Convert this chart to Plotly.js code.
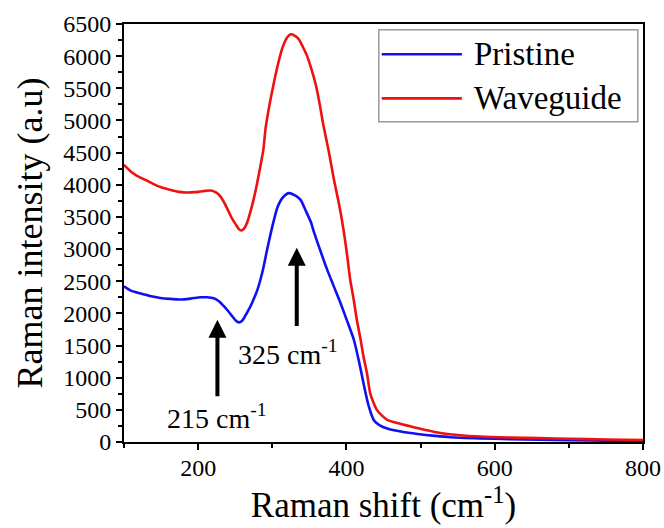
<!DOCTYPE html>
<html>
<head>
<meta charset="utf-8">
<script src="https://cdn.plot.ly/plotly-3.0.1.min.js"></script>
<style>html,body{margin:0;padding:0;background:#fff;}#chart{width:664px;height:528px;}</style>
</head>
<body>
<div id="chart"></div>
<script>
// Raman shift (cm^-1) and intensity (a.u)
const waveguideX = [100,110,122,130,140,150,163,175,185,195,203,210,217,224,230,235,240,246,251,255,258,262,266,270,275,280,284,288,291,296,302,308,314,320,325,330,336,341,347,353,359,364,369,376,383,390,396,401,405,410,414,419,423,428,432,437,441,448,455,470,487,505,527,550,580,620,660,700,750,800];
const waveguideY = [4310,4200,4110,4070,4010,3960,3920,3890,3880,3885,3895,3905,3910,3880,3820,3725,3610,3470,3380,3310,3290,3320,3410,3560,3780,4050,4290,4550,4880,5230,5580,5890,6140,6290,6340,6320,6260,6150,6000,5790,5540,5250,4920,4530,4090,3700,3305,2900,2530,2200,1900,1600,1330,1050,760,600,500,410,345,290,240,190,140,110,85,70,60,50,40,30];
const pristineX = [100,110,122,135,149,162,176,190,203,212,221,228,235,241,246,251,255,259,262,266,273,280,287,293,300,307,314,322,330,338,345,352,356,365,374,383,392,401,410,417,424,430,437,445,455,475,496,520,540,580,620,660,700,750,800];
const pristineY = [2420,2350,2310,2270,2240,2225,2215,2230,2250,2250,2235,2190,2110,2030,1955,1885,1860,1880,1930,2010,2170,2370,2660,2990,3350,3650,3800,3870,3840,3770,3600,3420,3270,2970,2680,2420,2160,1880,1590,1250,860,560,340,260,210,160,125,95,75,57,45,35,28,20,12];
const seriesNames = ['Pristine','Waveguide'];
const peakLabels = ['215 cm<sup>-1</sup>','325 cm<sup>-1</sup>'];
const peakArrowX = [226, 333];
const peakArrowHead = [1900, 3020];
const peakArrowTail = [690, 1780];
const peakTextX = [226, 321];
const peakTextY = [390, 1390];

const FONT = 'Liberation Serif';
const BLUE = '#1010f0';
const RED = '#f01010';

const traces = [
  {x: pristineX, y: pristineY, name: seriesNames[0], type: 'scatter', mode: 'lines',
   line: {color: BLUE, width: 2.6, shape: 'spline', smoothing: 0.6}, showlegend: false},
  {x: waveguideX, y: waveguideY, name: seriesNames[1], type: 'scatter', mode: 'lines',
   line: {color: RED, width: 2.6, shape: 'spline', smoothing: 0.6}, showlegend: false}
];

const annotations = [];
for (let i = 0; i < peakLabels.length; i++) {
  annotations.push({x: peakArrowX[i], y: peakArrowHead[i], ax: peakArrowX[i],
    ay: peakArrowTail[i], axref: 'x', ayref: 'y', xref: 'x', yref: 'y', text: '',
    showarrow: true, arrowhead: 2, arrowsize: 0.9, arrowwidth: 4, arrowcolor: 'black', standoff: 0, startstandoff: 0});
  annotations.push({x: peakTextX[i], y: peakTextY[i], xref: 'x', yref: 'y', text: peakLabels[i],
    showarrow: false, font: {family: FONT, size: 28, color: 'black'}, xanchor: 'center', yanchor: 'middle'});
}
// custom legend (text)
const legendY = [0.9275, 0.822];
const legendColors = [BLUE, RED];
const shapes = [
  {type: 'rect', xref: 'paper', yref: 'paper', x0: 0.491, x1: 0.990, y0: 0.766, y1: 0.986,
   line: {color: '#9a9a9a', width: 1.5}, fillcolor: 'rgba(0,0,0,0)'}
];
for (let i = 0; i < seriesNames.length; i++) {
  shapes.push({type: 'line', xref: 'paper', yref: 'paper', x0: 0.4966, x1: 0.651, y0: legendY[i], y1: legendY[i],
    line: {color: legendColors[i], width: 2.6}});
  annotations.push({xref: 'paper', yref: 'paper', x: 0.671, y: legendY[i], text: seriesNames[i],
    showarrow: false, xanchor: 'left', yanchor: 'middle', font: {family: FONT, size: 33, color: 'black'}});
}

function makeAxis(extra) {
  return Object.assign({
    showgrid: false, zeroline: false, showline: true, linecolor: 'black', linewidth: 2, mirror: true,
    ticks: 'outside', ticklen: 6, tickwidth: 2, tickcolor: 'black',
    tickfont: {family: FONT, size: 24, color: 'black'}
  }, extra);
}

const layout = {
  width: 664, height: 528,
  margin: {l: 124, r: 21, t: 24, b: 86, pad: 0},
  paper_bgcolor: 'white', plot_bgcolor: 'white',
  font: {family: FONT, color: 'black'},
  xaxis: makeAxis({
    range: [100, 800], tick0: 0, dtick: 200, ticklabelstandoff: -3,
    minor: {dtick: 100, tick0: 0, ticks: 'outside', ticklen: 4, tickwidth: 2, tickcolor: 'black', showgrid: false},
    title: {text: 'Raman shift (cm<sup>-1</sup>)', font: {family: FONT, size: 35, color: 'black'}, standoff: 6}
  }),
  yaxis: makeAxis({
    range: [0, 6500], tick0: 0, dtick: 500,
    minor: {dtick: 250, tick0: 0, ticks: 'outside', ticklen: 4, tickwidth: 2, tickcolor: 'black', showgrid: false},
    title: {text: 'Raman intensity (a.u)', font: {family: FONT, size: 36, color: 'black'}, standoff: 10}
  }),
  showlegend: false,
  annotations: annotations,
  shapes: shapes
};

Plotly.newPlot('chart', traces, layout, {displayModeBar: false, staticPlot: true});
</script>
</body>
</html>
